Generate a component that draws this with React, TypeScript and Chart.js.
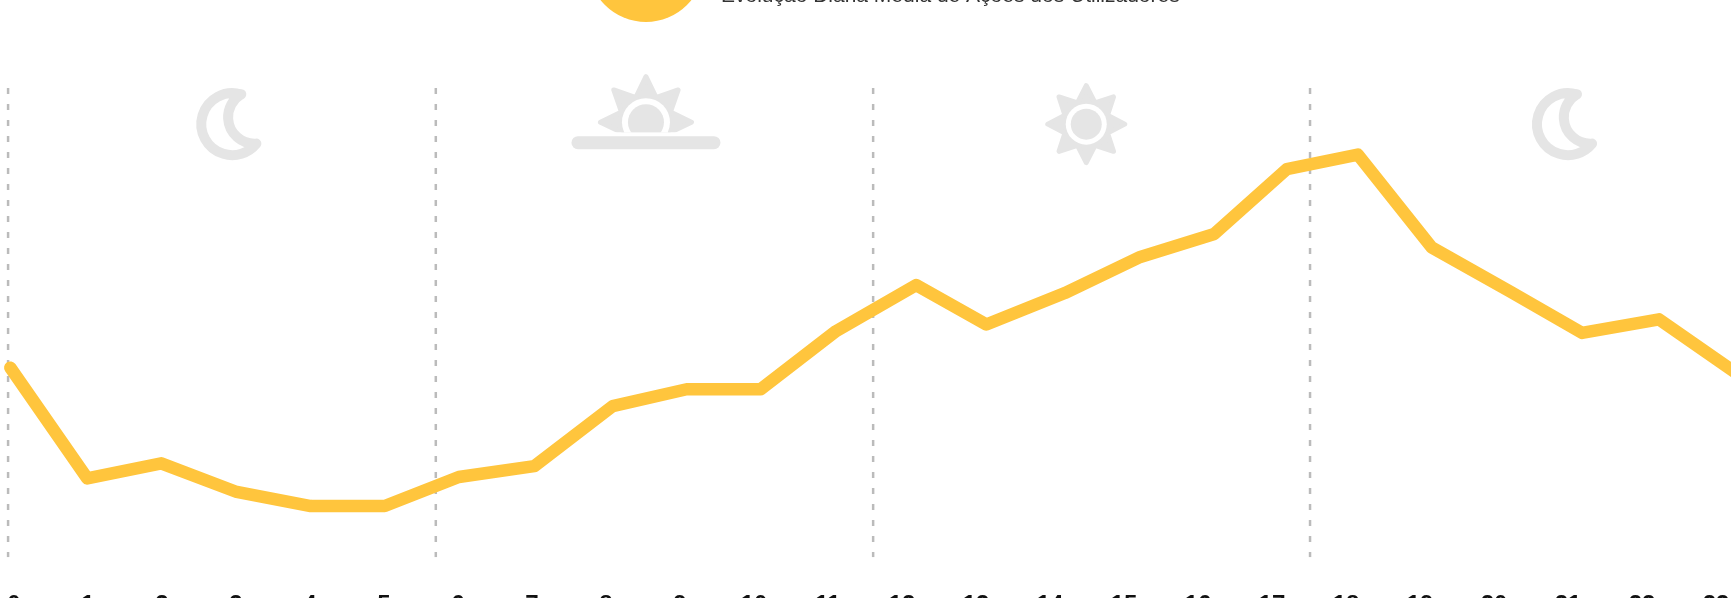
import React, { useEffect, useRef } from "react";
import { Chart, registerables } from "chart.js";

Chart.register(...registerables);

const legendLabel = "Evolução Diária Média de Ações dos Utilizadores";
const tickHours = [0, 1, 2, 3, 4, 5, 6, 7, 8, 9, 10, 11, 12, 13, 14, 15, 16, 17, 18, 19, 20, 21, 22, 23];
const pointHours = [-0.05, 0.99, 1.99, 3.01, 4.01, 5.01, 6.01, 7.03, 8.09, 9.09, 10.09, 11.11, 12.19, 13.14, 14.2, 15.22, 16.22, 17.2, 18.16, 19.16, 20.22, 21.19, 22.23, 23.26];
const actions = [40.4, 16.8, 20.0, 13.9, 10.9, 10.9, 17.1, 19.4, 32.2, 35.8, 35.8, 48.2, 58.0, 49.6, 56.3, 64.0, 68.9, 82.7, 85.8, 66.0, 56.6, 47.8, 50.7, 39.4];
const dividerHours = [-0.08, 5.7, 11.61, 17.514];
const moonHours = [2.95, 21.0];
const sunriseHours = [8.54];
const sunHours = [14.49];
const iconLevel = 92.3;

const YELLOW = "#FFC53D";
const ICON = "#E5E5E5";
const FONT = '"Liberation Sans", Arial, sans-serif';

function star(ctx: CanvasRenderingContext2D, cx: number, cy: number, tip: number, valley: number) {
  ctx.beginPath();
  for (let i = 0; i < 16; i++) {
    const a = -Math.PI / 2 + (i * Math.PI) / 8;
    const r = i % 2 === 0 ? tip : valley;
    const x = cx + r * Math.cos(a);
    const y = cy + r * Math.sin(a);
    if (i === 0) ctx.moveTo(x, y);
    else ctx.lineTo(x, y);
  }
  ctx.closePath();
  ctx.lineJoin = "round";
  ctx.lineWidth = 5;
  ctx.strokeStyle = ICON;
  ctx.fillStyle = ICON;
  ctx.fill();
  ctx.stroke();
}

function sunDisc(ctx: CanvasRenderingContext2D, cx: number, cy: number, outer: number, inner: number) {
  ctx.fillStyle = "#fff";
  ctx.beginPath();
  ctx.arc(cx, cy, outer, 0, Math.PI * 2);
  ctx.fill();
  ctx.fillStyle = ICON;
  ctx.beginPath();
  ctx.arc(cx, cy, inner, 0, Math.PI * 2);
  ctx.fill();
}

function moon(ctx: CanvasRenderingContext2D, cx: number, cy: number) {
  ctx.beginPath();
  ctx.moveTo(cx + 9, cy - 30);
  ctx.arc(cx, cy, 31, -1.28, 0.68, true);
  ctx.arc(cx + 22.4, cy - 7, 26.6, 1.51, 4.185, false);
  ctx.closePath();
  ctx.fillStyle = "#fff";
  ctx.fill();
  ctx.lineWidth = 10;
  ctx.lineJoin = "round";
  ctx.strokeStyle = ICON;
  ctx.stroke();
}

const decorations = {
  id: "decorations",
  afterDraw(chart: any) {
    const { ctx, scales } = chart;
    const y = scales.y.getPixelForValue(iconLevel);
    ctx.save();
    moonHours.forEach((h) => moon(ctx, scales.x.getPixelForValue(h), y));
    sunHours.forEach((h) => {
      const x = scales.x.getPixelForValue(h);
      star(ctx, x, y, 38.5, 23);
      sunDisc(ctx, x, y, 20.5, 15.5);
    });
    sunriseHours.forEach((h) => {
      const x = scales.x.getPixelForValue(h);
      const cy = y - 2;
      ctx.save();
      ctx.beginPath();
      ctx.rect(x - 60, cy - 60, 120, 70);
      ctx.clip();
      star(ctx, x, cy, 45.5, 26.5);
      sunDisc(ctx, x, cy, 24, 18);
      ctx.restore();
      ctx.strokeStyle = ICON;
      ctx.lineWidth = 13;
      ctx.lineCap = "round";
      ctx.beginPath();
      ctx.moveTo(x - 68, cy + 20.5);
      ctx.lineTo(x + 68, cy + 20.5);
      ctx.stroke();
    });
    // legend
    const lx = scales.x.getPixelForValue(8.54);
    const ly = chart.chartArea.top - 124;
    ctx.fillStyle = YELLOW;
    ctx.beginPath();
    ctx.arc(lx, ly, 58, 0, Math.PI * 2);
    ctx.fill();
    ctx.fillStyle = "#333";
    ctx.font = `21px ${FONT}`;
    ctx.textAlign = "left";
    ctx.textBaseline = "alphabetic";
    ctx.fillText(legendLabel, lx + 75, chart.chartArea.top - 86);
    ctx.restore();
  },
};

export default function App() {
  const ref = useRef<HTMLCanvasElement>(null);
  useEffect(() => {
    const chart = new Chart(ref.current!, {
      type: "line",
      data: {
        datasets: [
          {
            label: legendLabel,
            data: pointHours.map((h, i) => ({ x: h, y: actions[i] })),
            borderColor: YELLOW,
            borderWidth: 12.5,
            borderJoinStyle: "round",
            borderCapStyle: "round",
            pointRadius: 0,
            tension: 0,
            order: 0,
          },
          ...dividerHours.map((h) => ({
            label: "divider",
            data: [
              { x: h, y: 100 },
              { x: h, y: 0 },
            ],
            borderColor: "#BBBBBB",
            borderWidth: 2.5,
            borderDash: [6, 10],
            pointRadius: 0,
            order: 1,
          })),
        ],
      },
      options: {
        animation: false,
        responsive: false,
        layout: { padding: { top: 208, left: 0, right: 0, bottom: 0 } },
        plugins: { legend: { display: false }, tooltip: { enabled: false } },
        scales: {
          x: {
            type: "linear",
            min: -14 / 74,
            max: 24,
            grid: { display: false, tickLength: 34 },
            border: { display: false },
            afterBuildTicks: (axis: any) => {
              axis.ticks = tickHours.map((value) => ({ value }));
            },
            ticks: {
              autoSkip: false,
              maxRotation: 0,
              padding: 0,
              color: "#111",
              font: { family: FONT, size: 24, weight: "bold" },
              callback: (v: any) => String(v),
            },
          },
          y: { display: false, min: 0, max: 100 },
        },
      },
      plugins: [decorations],
    } as any);
    return () => chart.destroy();
  }, []);
  return (
    <div style={{ position: "fixed", left: 0, top: 0, width: 1731, height: 598, overflow: "hidden", background: "#fff" }}>
      <canvas ref={ref} width={1790} height={740} style={{ position: "absolute", left: 0, top: -120, width: 1790, height: 740 }} />
    </div>
  );
}
